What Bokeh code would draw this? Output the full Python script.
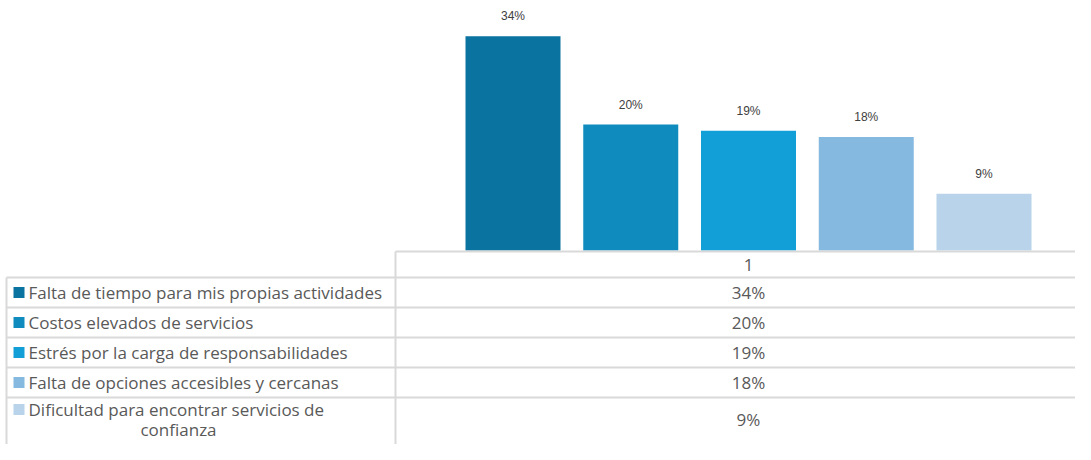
from bokeh.plotting import figure
from bokeh.models import Range1d, ColumnDataSource
from bokeh.embed import file_html
from bokeh.resources import INLINE
from bokeh.core.properties import value

# ---- data ----
categories = [
    "Falta de tiempo para mis propias actividades",
    "Costos elevados de servicios",
    "Estrés por la carga de responsabilidades",
    "Falta de opciones accesibles y cercanas",
    "Dificultad para encontrar servicios de\nconfianza",
]
values = [34, 20, 19, 18, 9]
labels = ["34%", "20%", "19%", "18%", "9%"]
colors = ["#0a73a0", "#0f8bbe", "#129fd7", "#86b9df", "#b8d3ea"]
header = "1"

W, H = 1075, 444
PX_PER_PCT = 6.3
BASE = 250  # pixel y of bar baseline

p = figure(width=W, height=H, output_backend="svg", toolbar_location=None,
           x_range=Range1d(0, W),
           y_range=Range1d((BASE - H) / PX_PER_PCT, BASE / PX_PER_PCT),
           min_border=0, outline_line_color=None)
p.xaxis.visible = False
p.yaxis.visible = False
p.grid.visible = False
p.background_fill_color = "white"
p.border_fill_color = "white"

# extra ranges: bar index space, and pixel space for the table
c0, step = 512.5, 117.75
p.extra_x_ranges = {"idx": Range1d((0 - c0) / step, (W - c0) / step)}
p.extra_y_ranges = {"px": Range1d(H, 0)}

idx = list(range(len(values)))
src = ColumnDataSource(dict(x=idx, top=values, color=colors, label=labels,
                            ly=[v + 20 / PX_PER_PCT for v in values]))

p.vbar(x="x", top="top", bottom=0, width=95 / step, fill_color="color",
       line_color=None, source=src, x_range_name="idx")
p.text(x="x", y="ly", text="label", source=src, x_range_name="idx",
       text_align="center", text_baseline="middle", text_font=value("Liberation Sans"),
       text_font_size="12px", text_color="#404040")

# ---- data table ----
grid = "#d9d9d9"
head_top = 251
row_edges = [277, 307, 337, 367, 397]
p.segment(x0=[395], y0=[head_top], x1=[W], y1=[head_top], line_color=grid, line_width=2, y_range_name="px")
p.segment(x0=[6] * len(row_edges), y0=row_edges, x1=[W] * len(row_edges), y1=row_edges,
          line_color=grid, line_width=2, y_range_name="px")
p.segment(x0=[6, 395], y0=[row_edges[0], head_top], x1=[6, 395], y1=[H, H],
          line_color=grid, line_width=2, y_range_name="px")

font = value("Open Sans")
tcol = "#595959"
fs = "17px"
p.text(x=[2], y=[264], text=[header], x_range_name="idx", y_range_name="px",
       text_align="center", text_baseline="middle", text_font=font,
       text_font_size=fs, text_color=tcol)

row_y = [292, 322, 352, 382, 419]
p.text(x=[2] * len(labels), y=row_y, text=labels, x_range_name="idx", y_range_name="px",
       text_align="center", text_baseline="middle", text_font=font,
       text_font_size=fs, text_color=tcol)

# legend keys
p.scatter(x=[18.5] * len(colors), y=[292, 322, 352, 382, 409], marker="square", size=11,
          fill_color=colors, line_color=None, y_range_name="px")

single = categories[:4]
p.text(x=[28] * 4, y=row_y[:4], text=single, y_range_name="px",
       text_align="left", text_baseline="middle", text_font=font,
       text_font_size=fs, text_color=tcol)
last = categories[4].split("\n")
p.text(x=[28], y=[409], text=[last[0]], y_range_name="px",
       text_align="left", text_baseline="middle", text_font=font,
       text_font_size=fs, text_color=tcol)
p.text(x=[178], y=[429], text=[last[1]], y_range_name="px",
       text_align="center", text_baseline="middle", text_font=font,
       text_font_size=fs, text_color=tcol)

open("out.html", "w").write(file_html(p, INLINE))
